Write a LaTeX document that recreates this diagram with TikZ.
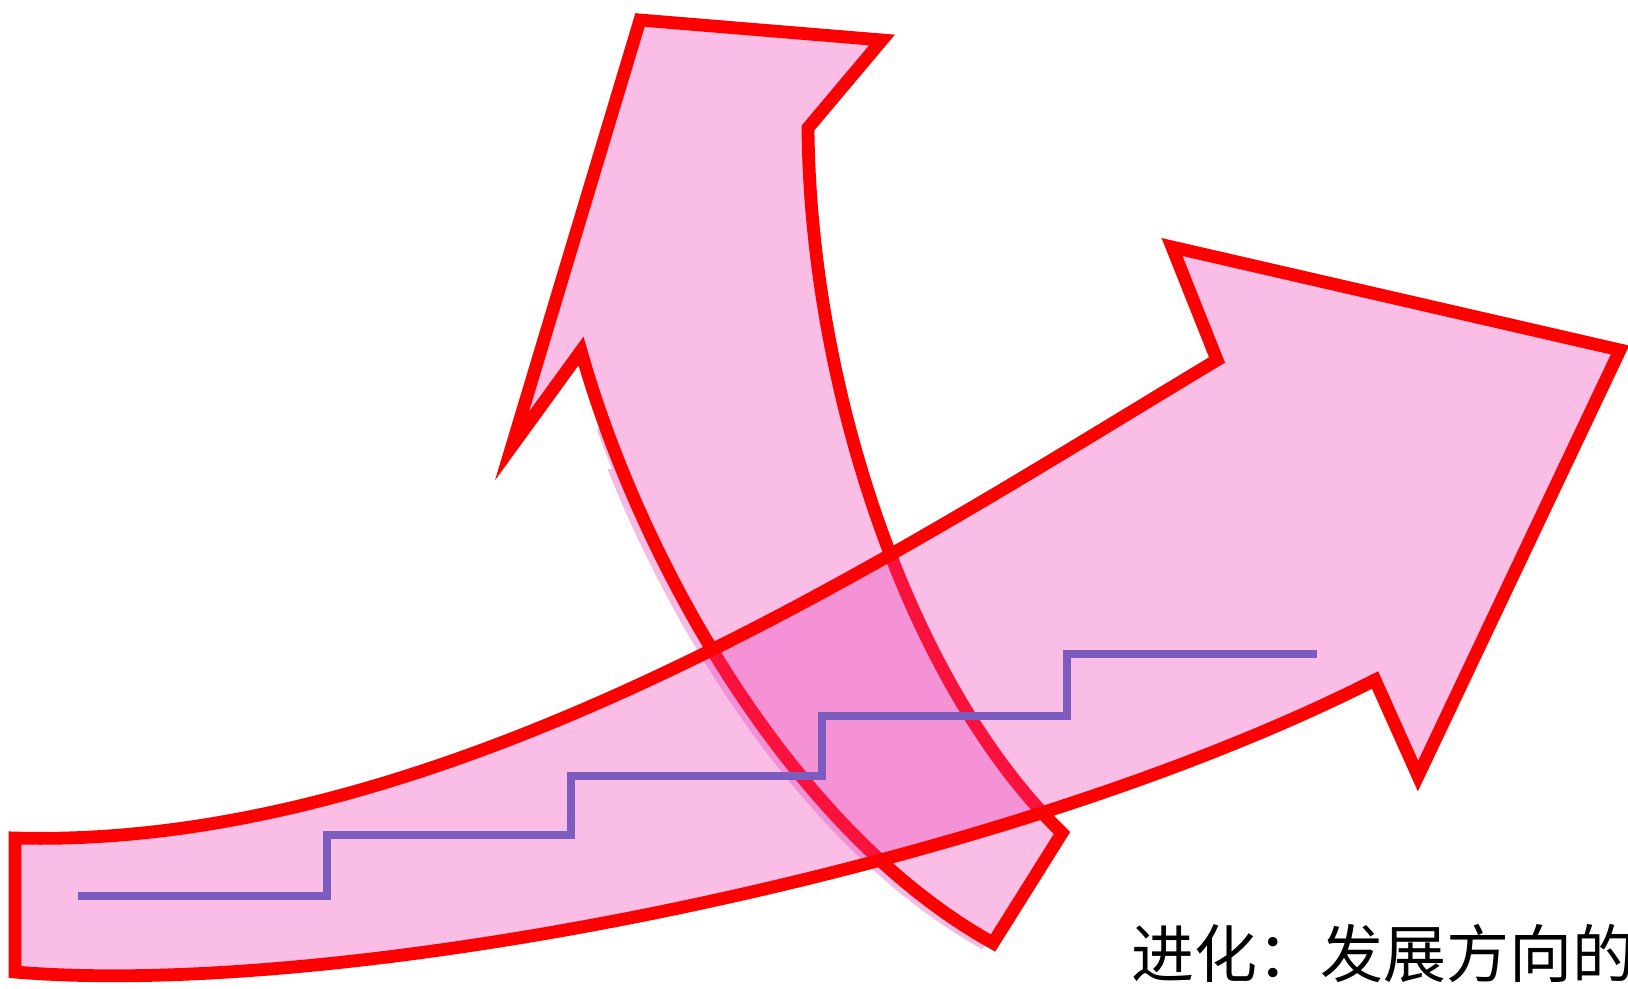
\documentclass[tikz,border=0pt]{standalone}
\usepackage{fontspec}
\newfontfamily\cjk{Noto Sans CJK SC}
\definecolor{arrowpink}{RGB}{249,189,230}
\definecolor{overpink}{RGB}{237,57,180}
\definecolor{edgered}{RGB}{255,0,0}
\definecolor{stairpurple}{RGB}{124,92,190}
\definecolor{shadowpink}{RGB}{247,186,228}
\begin{document}
\begin{tikzpicture}[x=0.5pt,y=-0.5pt,
  outline/.style={draw=edgered, line width=6.4pt, line join=miter, miter limit=10},
  stair/.style={draw=stairpurple, line width=4pt},
  label/.style={anchor=west, inner sep=0pt, font=\cjk\fontsize{31.5pt}{32pt}\selectfont}]
\useasboundingbox (0,0) rectangle (1628,989);
\clip (0,0) rectangle (1628,989);
% soft shadow along the left edge of the rising arrow
\begin{scope}
  \clip (0,470) rectangle (1100,989);
  \begin{scope}[shift={(-8,2)}]
    \draw[shadowpink, line width=5pt] (993,943) .. controls (790,830) and (640,560) .. (581,351);
  \end{scope}
\end{scope}
\begin{scope}
  \clip (0,430) rectangle (1100,470);
  \begin{scope}[shift={(-5,1)}]
    \draw[shadowpink, line width=4pt] (993,943) .. controls (790,830) and (640,560) .. (581,351);
  \end{scope}
\end{scope}
% rising arrow
\path[fill=arrowpink, outline] (640,20) -- (882,40) -- (808,128)
  .. controls (810,380) and (905,680) .. (1062,833) -- (993,943)
  .. controls (790,830) and (640,560) .. (581,351) -- (512,446) -- cycle;
% long arrow to the right (translucent over the rising arrow)
\path[fill=overpink, fill opacity=0.333] (15,838)
  .. controls (450,850) and (900,550) .. (1217,360) -- (1172,247) -- (1620,350)
  -- (1418,776) -- (1375,680) .. controls (1000,870) and (350,1000) .. (15,972) -- cycle;
\path[outline] (15,838)
  .. controls (450,850) and (900,550) .. (1217,360) -- (1172,247) -- (1620,350)
  -- (1418,776) -- (1375,680) .. controls (1000,870) and (350,1000) .. (15,972) -- cycle;
% staircase
\draw[stair] (78,896) -- (327,896) -- (327,835) -- (571,835) -- (571,776) -- (822,776)
  -- (822,716) -- (1067,716) -- (1067,654) -- (1317,654);
% caption
\node[label] (caption) at (1131,953) {进化：发展方向的};
\end{tikzpicture}
\end{document}
